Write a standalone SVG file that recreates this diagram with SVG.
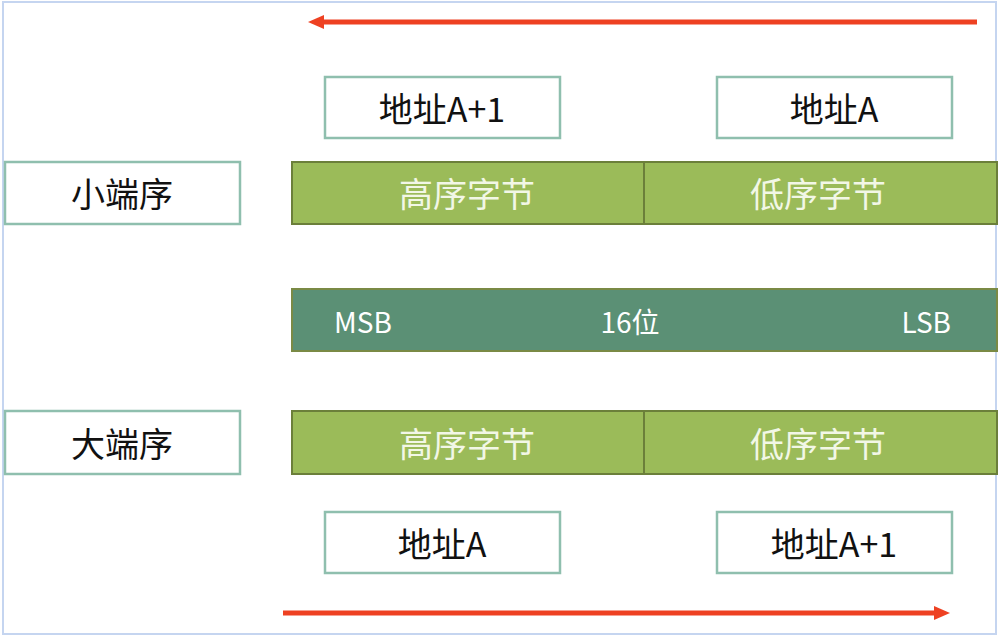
<svg xmlns="http://www.w3.org/2000/svg" width="998" height="637" viewBox="0 0 998 637">
<defs>
<style>
.wbox{fill:#ffffff;stroke:#8fbfae;stroke-width:2.5}
.gbar{fill:#9bbb59;stroke:#6b7f3a;stroke-width:2}
.dbar{fill:#5b9075;stroke:#7a8a45;stroke-width:2}
.bt{font-family:"Noto Sans CJK SC","Liberation Sans",sans-serif;font-size:34px;fill:#111;text-anchor:middle;dominant-baseline:central}
.gt{font-family:"Noto Sans CJK SC","Liberation Sans",sans-serif;font-size:34px;fill:#f2f7e6;text-anchor:middle;dominant-baseline:central}
.mt{font-family:"Noto Sans CJK SC","Liberation Sans",sans-serif;font-size:28px;fill:#ffffff;dominant-baseline:central}
.arr{stroke:#ee4122;stroke-width:5;fill:none}
</style>
<marker id="ah" markerWidth="16" markerHeight="16" refX="2" refY="8" orient="auto" markerUnits="userSpaceOnUse" viewBox="0 0 16 16">
<path d="M0,1 L16,8 L0,15 Z" fill="#ee4122"/>
</marker>
</defs>
<rect x="0" y="0" width="998" height="637" fill="#ffffff"/>
<rect x="3" y="2" width="993" height="632" fill="none" stroke="#c5d5f0" stroke-width="2"/>

<g id="connectors">
<line class="arr" x1="977" y1="22" x2="322" y2="22" marker-end="url(#ah)"/>
<line class="arr" x1="283" y1="613" x2="936" y2="613" marker-end="url(#ah)"/>
</g>

<g id="addr-top-a1"><rect class="wbox" x="325" y="77" width="235" height="61"/><text class="bt" x="442" y="107">地址A+1</text></g>
<g id="addr-top-a"><rect class="wbox" x="717" y="77" width="235" height="61"/><text class="bt" x="834" y="107">地址A</text></g>

<g id="little-endian"><rect class="wbox" x="5" y="162" width="235" height="62"/><text class="bt" x="122" y="192">小端序</text></g>
<g id="little-bytes">
<rect class="gbar" x="292" y="162" width="352" height="62"/>
<rect class="gbar" x="644" y="162" width="353" height="62"/>
<text class="gt" x="467" y="192">高序字节</text>
<text class="gt" x="818" y="192">低序字节</text>
</g>

<g id="bits16">
<rect class="dbar" x="292" y="289" width="705" height="62"/>
<text class="mt" x="334" y="321">MSB</text>
<text class="mt" x="630" y="321" text-anchor="middle">16位</text>
<text class="mt" x="951" y="321" text-anchor="end">LSB</text>
</g>

<g id="big-endian"><rect class="wbox" x="5" y="411" width="235" height="63"/><text class="bt" x="122" y="442">大端序</text></g>
<g id="big-bytes">
<rect class="gbar" x="292" y="411" width="352" height="63"/>
<rect class="gbar" x="644" y="411" width="353" height="63"/>
<text class="gt" x="467" y="442">高序字节</text>
<text class="gt" x="818" y="442">低序字节</text>
</g>

<g id="addr-bot-a"><rect class="wbox" x="325" y="512" width="235" height="61"/><text class="bt" x="442" y="542">地址A</text></g>
<g id="addr-bot-a1"><rect class="wbox" x="717" y="512" width="235" height="61"/><text class="bt" x="834" y="542">地址A+1</text></g>
</svg>
